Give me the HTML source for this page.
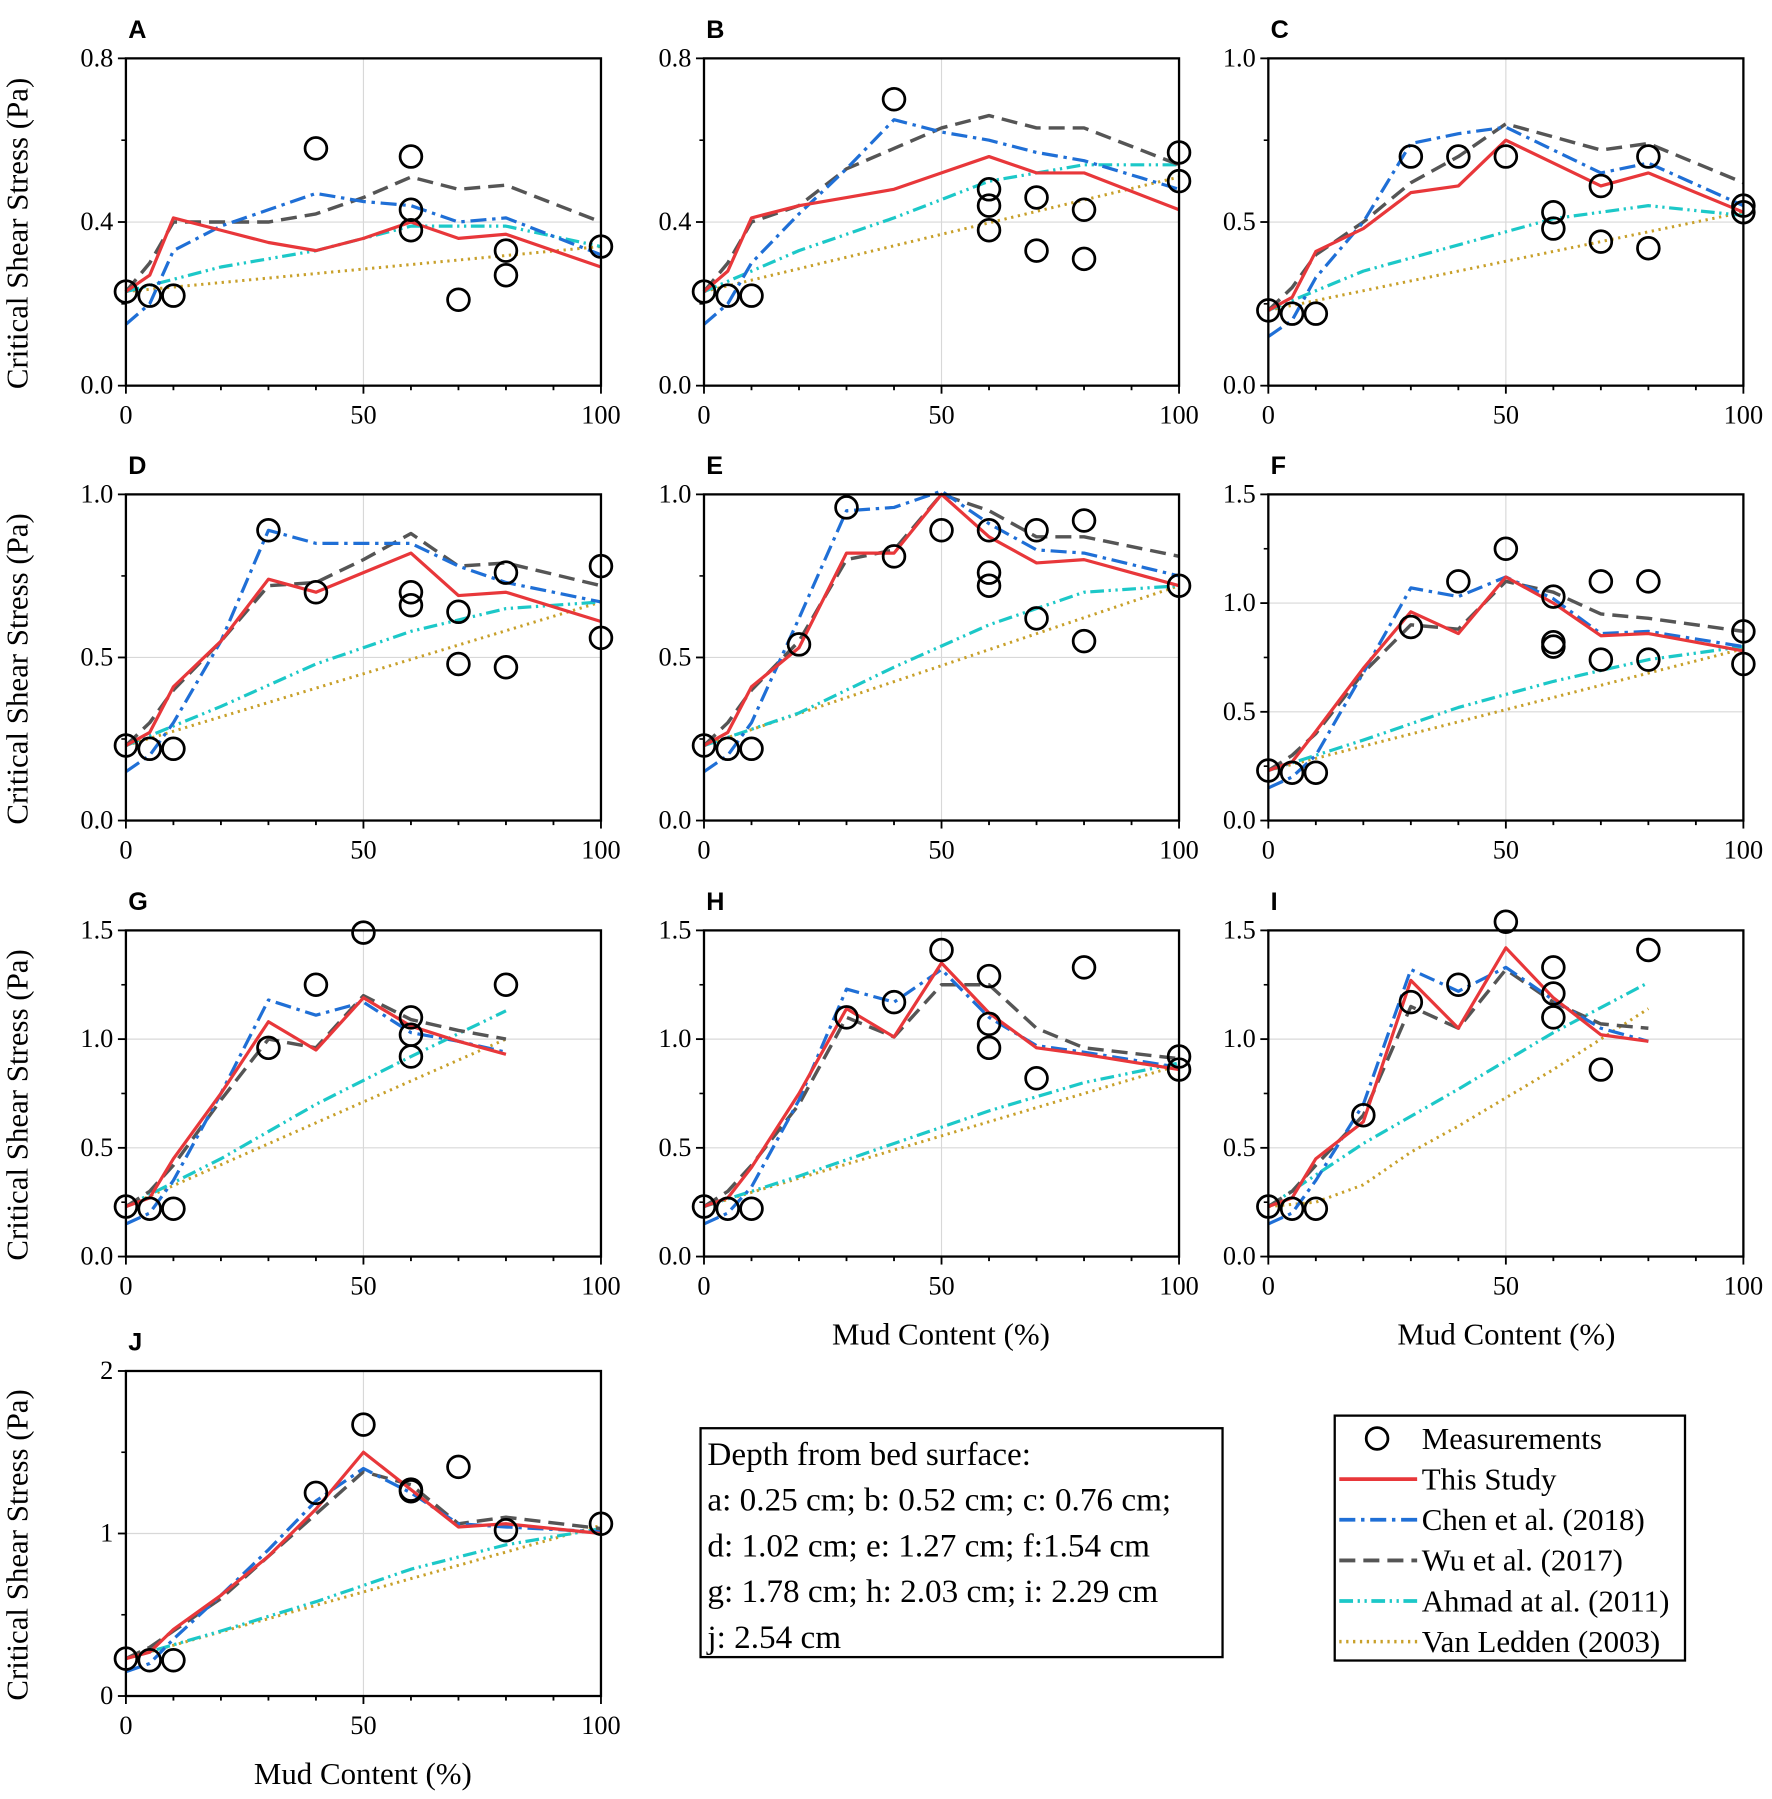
<!DOCTYPE html>
<html><head><meta charset="utf-8">
<style>
html,body{margin:0;padding:0;background:#fff;}
svg{display:block;}
text{font-family:"Liberation Serif",serif;}
</style></head>
<body>
<svg id="fig" width="1772" height="1799" viewBox="0 0 1548 1572" preserveAspectRatio="none" xmlns="http://www.w3.org/2000/svg" font-family="Liberation Serif, serif">
<rect width="1548" height="1572" fill="#fff"/>
</svg>
<script>
const xKeys = [0,5,10,20,30,40,50,60,70,80,100];
const xKeys80 = [0,5,10,20,30,40,50,60,70,80];
const ahmadX = [0,20,40,60,80,100];
const ahmadX80 = [0,20,40,60,80];
const xTicks = [0,50,100];

// Panel A
const measA = [[0,0.23],[5,0.22],[10,0.22],[40,0.58],[60,0.56],[60,0.43],[60,0.38],[70,0.21],[80,0.33],[80,0.27],[100,0.34]];
const redA = [0.23,0.27,0.41,0.38,0.35,0.33,0.36,0.40,0.36,0.37,0.29];
const chenA = [0.15,0.20,0.33,0.39,0.43,0.47,0.45,0.44,0.40,0.41,0.32];
const wuA = [0.23,0.30,0.40,0.40,0.40,0.42,0.46,0.51,0.48,0.49,0.40];
const ahmadA = [0.23,0.29,0.33,0.39,0.39,0.34];
const vlA = [0.23,0.34];
// Panel B
const measB = [[0,0.23],[5,0.22],[10,0.22],[40,0.70],[60,0.48],[60,0.44],[60,0.38],[70,0.46],[70,0.33],[80,0.43],[80,0.31],[100,0.57],[100,0.50]];
const redB = [0.23,0.28,0.41,0.44,0.46,0.48,0.52,0.56,0.52,0.52,0.43];
const chenB = [0.15,0.20,0.30,0.42,0.53,0.65,0.62,0.60,0.57,0.55,0.48];
const wuB = [0.23,0.30,0.40,0.44,0.53,0.58,0.63,0.66,0.63,0.63,0.54];
const ahmadB = [0.23,0.33,0.41,0.50,0.54,0.54];
const vlB = [0.23,0.51];
// Panel C
const measC = [[0,0.23],[5,0.22],[10,0.22],[30,0.70],[40,0.70],[50,0.70],[60,0.53],[60,0.48],[70,0.61],[70,0.44],[80,0.70],[80,0.42],[100,0.55],[100,0.53]];
const redC = [0.23,0.27,0.41,0.48,0.59,0.61,0.75,0.68,0.61,0.65,0.53];
const chenC = [0.15,0.20,0.33,0.50,0.74,0.77,0.79,0.72,0.65,0.68,0.55];
const wuC = [0.23,0.30,0.40,0.50,0.62,0.70,0.80,0.76,0.72,0.74,0.62];
const ahmadC = [0.23,0.35,0.43,0.51,0.55,0.52];
const vlC = [0.23,0.53];
// Panel D
const measD = [[0,0.23],[5,0.22],[10,0.22],[30,0.89],[40,0.70],[60,0.70],[60,0.66],[70,0.64],[70,0.48],[80,0.76],[80,0.47],[100,0.78],[100,0.56]];
const redD = [0.23,0.27,0.41,0.55,0.74,0.70,0.76,0.82,0.69,0.70,0.61];
const chenD = [0.15,0.20,0.30,0.55,0.89,0.85,0.85,0.85,0.78,0.73,0.67];
const wuD = [0.23,0.30,0.40,0.55,0.72,0.73,0.80,0.88,0.78,0.79,0.72];
const ahmadD = [0.23,0.35,0.48,0.58,0.65,0.67];
const vlD = [0.23,0.67];
// Panel E
const measE = [[0,0.23],[5,0.22],[10,0.22],[20,0.54],[30,0.96],[40,0.81],[50,0.89],[60,0.89],[60,0.76],[60,0.72],[70,0.89],[70,0.62],[80,0.92],[80,0.55],[100,0.72]];
const redE = [0.23,0.27,0.41,0.53,0.82,0.82,1.00,0.87,0.79,0.80,0.72];
const chenE = [0.15,0.20,0.30,0.62,0.95,0.96,1.01,0.91,0.83,0.82,0.75];
const wuE = [0.23,0.30,0.40,0.55,0.80,0.83,1.00,0.95,0.87,0.87,0.81];
const ahmadE = [0.23,0.33,0.47,0.60,0.70,0.72];
const vlE = [0.23,0.72];
// Panel F
const measF = [[0,0.23],[5,0.22],[10,0.22],[30,0.89],[40,1.10],[50,1.25],[60,1.03],[60,0.82],[60,0.80],[70,1.10],[70,0.74],[80,1.10],[80,0.74],[100,0.87],[100,0.72]];
const redF = [0.23,0.27,0.41,0.70,0.96,0.86,1.12,1.00,0.85,0.86,0.78];
const chenF = [0.15,0.20,0.30,0.68,1.07,1.03,1.12,1.02,0.86,0.87,0.80];
const wuF = [0.23,0.30,0.40,0.68,0.90,0.88,1.10,1.05,0.95,0.93,0.87];
const ahmadF = [0.23,0.37,0.52,0.64,0.74,0.80];
const vlF = [0.23,0.79];
// Panel G
const measG = [[0,0.23],[5,0.22],[10,0.22],[30,0.96],[40,1.25],[50,1.49],[60,1.10],[60,1.02],[60,0.92],[80,1.25]];
const redG = [0.23,0.27,0.45,0.75,1.08,0.95,1.19,1.06,0.99,0.93];
const chenG = [0.15,0.20,0.35,0.75,1.18,1.11,1.17,1.03,0.99,0.94];
const wuG = [0.23,0.30,0.42,0.72,1.00,0.96,1.20,1.09,1.04,1.00];
const ahmadG = [0.23,0.45,0.70,0.92,1.13];
const vlG = [0.23,1.00];
// Panel H
const measH = [[0,0.23],[5,0.22],[10,0.22],[30,1.10],[40,1.17],[50,1.41],[60,1.29],[60,1.07],[60,0.96],[70,0.82],[80,1.33],[100,0.92],[100,0.86]];
const redH = [0.23,0.27,0.41,0.75,1.14,1.01,1.35,1.12,0.96,0.93,0.86];
const chenH = [0.15,0.20,0.32,0.72,1.23,1.17,1.32,1.10,0.97,0.94,0.87];
const wuH = [0.23,0.30,0.42,0.70,1.10,1.01,1.25,1.25,1.05,0.96,0.91];
const ahmadH = [0.23,0.37,0.52,0.67,0.80,0.89];
const vlH = [0.23,0.88];
// Panel I
const measI = [[0,0.23],[5,0.22],[10,0.22],[20,0.65],[30,1.17],[40,1.25],[50,1.54],[60,1.33],[60,1.21],[60,1.10],[70,0.86],[80,1.41]];
const redI = [0.23,0.27,0.45,0.62,1.27,1.05,1.42,1.19,1.02,0.99];
const chenI = [0.15,0.20,0.35,0.70,1.32,1.22,1.33,1.18,1.05,0.99];
const wuI = [0.23,0.30,0.42,0.65,1.15,1.05,1.32,1.17,1.07,1.05];
const ahmadI = [0.23,0.52,0.77,1.03,1.26];
const vlIx = [0,10,20,30,40,50,60,70,80];
const vlI = [0.23,0.25,0.33,0.48,0.60,0.73,0.86,1.00,1.14];
// Panel J
const measJ = [[0,0.23],[5,0.22],[10,0.22],[40,1.25],[50,1.67],[60,1.27],[60,1.26],[70,1.41],[80,1.02],[100,1.06]];
const redJ = [0.23,0.27,0.41,0.62,0.86,1.15,1.50,1.27,1.04,1.06,1.00];
const chenJ = [0.15,0.20,0.35,0.62,0.90,1.20,1.40,1.25,1.06,1.04,1.01];
const wuJ = [0.23,0.30,0.40,0.60,0.86,1.12,1.38,1.30,1.06,1.10,1.03];
const ahmadJ = [0.23,0.40,0.58,0.78,0.93,1.03];
const vlJ = [0.23,1.05];

const yTicks08 = ["0.0","0.4","0.8"];
const yTicks10 = ["0.0","0.5","1.0"];
const yTicks15 = ["0.0","0.5","1.0","1.5"];
const yTicks2 = ["0","1","2"];

const NS = "http://www.w3.org/2000/svg";
const SERIF = '"Liberation Serif", serif';
const svg = document.getElementById('fig');
function mk(tag, attrs, parent){const e=document.createElementNS(NS,tag);for(const k in attrs)e.setAttribute(k,attrs[k]);if(tag==='text'&&!attrs.style)e.style.fontFamily=SERIF;(parent||svg).appendChild(e);return e;}

const cols=[[110,525],[615,1030],[1108,1523]];
const rows=[[51,337],[432,717],[813,1098],[1198,1482]];
const panels=[
 {id:'A',c:0,r:0,ymax:0.8,ticks:yTicks08,meas:measA,red:redA,chen:chenA,wu:wuA,ah:ahmadA,vl:vlA,x:xKeys,ax:ahmadX,vx:[0,100]},
 {id:'B',c:1,r:0,ymax:0.8,ticks:yTicks08,meas:measB,red:redB,chen:chenB,wu:wuB,ah:ahmadB,vl:vlB,x:xKeys,ax:ahmadX,vx:[0,100]},
 {id:'C',c:2,r:0,ymax:1.0,ticks:yTicks10,meas:measC,red:redC,chen:chenC,wu:wuC,ah:ahmadC,vl:vlC,x:xKeys,ax:ahmadX,vx:[0,100]},
 {id:'D',c:0,r:1,ymax:1.0,ticks:yTicks10,meas:measD,red:redD,chen:chenD,wu:wuD,ah:ahmadD,vl:vlD,x:xKeys,ax:ahmadX,vx:[0,100]},
 {id:'E',c:1,r:1,ymax:1.0,ticks:yTicks10,meas:measE,red:redE,chen:chenE,wu:wuE,ah:ahmadE,vl:vlE,x:xKeys,ax:ahmadX,vx:[0,100]},
 {id:'F',c:2,r:1,ymax:1.5,ticks:yTicks15,meas:measF,red:redF,chen:chenF,wu:wuF,ah:ahmadF,vl:vlF,x:xKeys,ax:ahmadX,vx:[0,100]},
 {id:'G',c:0,r:2,ymax:1.5,ticks:yTicks15,meas:measG,red:redG,chen:chenG,wu:wuG,ah:ahmadG,vl:vlG,x:xKeys80,ax:ahmadX80,vx:[0,80]},
 {id:'H',c:1,r:2,ymax:1.5,ticks:yTicks15,meas:measH,red:redH,chen:chenH,wu:wuH,ah:ahmadH,vl:vlH,x:xKeys,ax:ahmadX,vx:[0,100]},
 {id:'I',c:2,r:2,ymax:1.5,ticks:yTicks15,meas:measI,red:redI,chen:chenI,wu:wuI,ah:ahmadI,vl:vlI,x:xKeys80,ax:ahmadX80,vx:vlIx},
 {id:'J',c:0,r:3,ymax:2,ticks:yTicks2,meas:measJ,red:redJ,chen:chenJ,wu:wuJ,ah:ahmadJ,vl:vlJ,x:xKeys,ax:ahmadX,vx:[0,100]},
];
const styles={
 red:{stroke:'#e8373a',w:2.8,dash:''},
 chen:{stroke:'#1f6fd6',w:2.8,dash:'14 5 3 5'},
 wu:{stroke:'#555',w:3,dash:'14 7'},
 ah:{stroke:'#1cc8c8',w:2.8,dash:'12 4 2 4 2 4'},
 vl:{stroke:'#c8a02a',w:2.6,dash:'2 4'}
};

panels.forEach(p=>{
 const [x0,x1]=cols[p.c],[y0,y1]=rows[p.r];
 const xs=v=>x0+(x1-x0)*v/100;
 const ys=v=>y1-(y1-y0)*v/p.ymax;
 const g=mk('g',{});
 
 
 xTicks.forEach(t=>{ if(t>0&&t<100){const l=mk('line',{x1:xs(t),x2:xs(t),y1:y0,y2:y1,stroke:'#d8d8d8','stroke-width':1},g);}});
 p.ticks.forEach(t=>{const v=parseFloat(t); if(v>0&&v<p.ymax){const l=mk('line',{x1:x0,x2:x1,y1:ys(v),y2:ys(v),stroke:'#d8d8d8','stroke-width':1},g);}});
 function line(key,xarr,yarr){
  const s=styles[key];
  const pts=yarr.map((v,i)=>xs(xarr[i]).toFixed(1)+','+ys(v).toFixed(1)).join(' ');
  const pl=mk('polyline',{points:pts,fill:'none',stroke:s.stroke,'stroke-width':s.w,'stroke-dasharray':s.dash,'stroke-linejoin':'round'},g);
  
  
 }
 line('vl',p.vx,p.vl);
 line('ah',p.ax,p.ah);
 line('wu',p.x,p.wu);
 line('chen',p.x,p.chen);
 line('red',p.x,p.red);
 p.meas.forEach(m=>{const c=mk('circle',{cx:xs(m[0]),cy:ys(m[1]),r:9.5,fill:'none',stroke:'#000','stroke-width':2.4},g);});
 const fr=mk('rect',{x:x0,y:y0,width:x1-x0,height:y1-y0,fill:'none',stroke:'#000','stroke-width':2},g);
 
 for(let t=0;t<=100;t+=10){const maj=t%50===0;mk('line',{x1:xs(t),x2:xs(t),y1:y1,y2:y1+(maj?7:4),stroke:'#000','stroke-width':1.6},g);}
 xTicks.forEach(t=>{const tx=mk('text',{x:xs(t),y:y1+33,'font-size':23,'text-anchor':'middle'},g);tx.textContent=t;});
 const nT=p.ticks.length;
 p.ticks.forEach((t,i)=>{const v=parseFloat(t);mk('line',{x1:x0-7,x2:x0,y1:ys(v),y2:ys(v),stroke:'#000','stroke-width':1.6},g);
  if(i<nT-1){const vm=(v+parseFloat(p.ticks[i+1]))/2;mk('line',{x1:x0-4,x2:x0,y1:ys(vm),y2:ys(vm),stroke:'#000','stroke-width':1.4},g);}
  const tx=mk('text',{x:x0-11,y:ys(v)+7,'font-size':23,'text-anchor':'end'},g);tx.textContent=t;});
 const lb=mk('text',{x:x0+2,y:y0-18,'font-size':22,'font-weight':'bold',style:'font-family:"Liberation Sans",sans-serif'},g);
 lb.textContent=p.id;
});

rows.forEach(r=>{const cy=(r[0]+r[1])/2+10;const t=mk('text',{x:0,y:0,'font-size':27,'text-anchor':'middle',transform:`translate(24,${cy}) rotate(-90)`});t.textContent='Critical Shear Stress (Pa)';});
[[822,1175],[1316,1175],[317,1559]].forEach(a=>{const t=mk('text',{x:a[0],y:a[1],'font-size':27,'text-anchor':'middle'});t.textContent='Mud Content (%)';});

const db=mk('rect',{x:612,y:1248,width:456,height:200,fill:'#fff',stroke:'#000','stroke-width':2});

const dlines=['Depth from bed surface:','a: 0.25 cm; b: 0.52 cm; c: 0.76 cm;','d: 1.02 cm; e: 1.27 cm; f:1.54 cm','g: 1.78 cm; h: 2.03 cm; i: 2.29 cm','j: 2.54 cm'];
dlines.forEach((s,i)=>{const t=mk('text',{x:618,y:1280+i*40,'font-size':29});t.textContent=s;});

const lg=mk('rect',{x:1166,y:1237,width:306,height:214,fill:'#fff',stroke:'#000','stroke-width':2});

const legItems=[['meas','Measurements'],['red','This Study'],['chen','Chen et al. (2018)'],['wu','Wu et al. (2017)'],['ah','Ahmad at al. (2011)'],['vl','Van Ledden (2003)']];
legItems.forEach((it,i)=>{const y=1257+i*35.5;
 if(it[0]==='meas'){const c=mk('circle',{cx:1203,cy:y,r:9.5,fill:'none',stroke:'#000','stroke-width':2.4});}
 else{const s=styles[it[0]];const l=mk('line',{x1:1170,x2:1238,y1:y,y2:y,stroke:s.stroke,'stroke-width':s.w+0.4,'stroke-dasharray':s.dash});}
 const t=mk('text',{x:1242,y:y+9,'font-size':27});t.textContent=it[1];
});
</script>
</body></html>
